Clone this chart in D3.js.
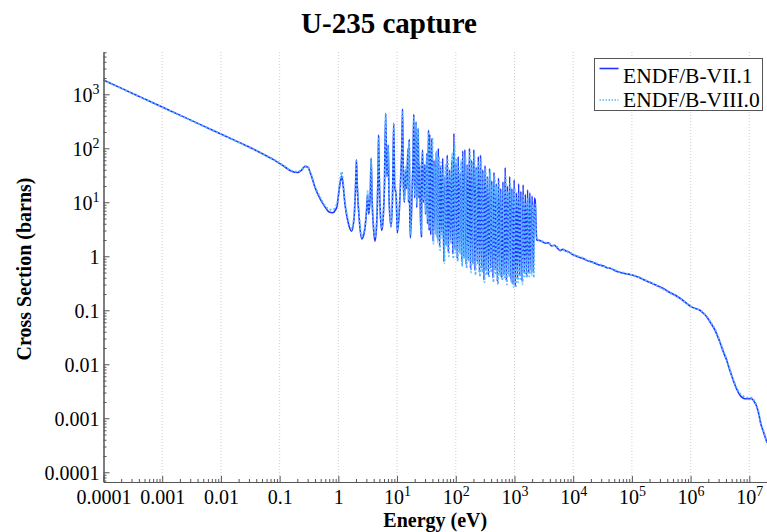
<!DOCTYPE html>
<html>
<head>
<meta charset="utf-8">
<script src="https://cdn.jsdelivr.net/npm/d3@7"></script>
<style>
  body { margin: 0; background: #fff; }
  svg { display: block; }
  text { font-family: "Liberation Serif", "Times New Roman", serif; fill: #000; }
</style>
</head>
<body>
<svg id="chart" width="767" height="532"></svg>
<script>
// ---- U-235 capture cross section, ENDF/B-VII.1 vs ENDF/B-VIII.0 ----

const seriesNames = ["ENDF/B-VII.1", "ENDF/B-VIII.0"];

// Thermal / 1/v region (eV, barns)
const lowEnergy = [1e-4, 2e-4, 5e-4, 1e-3, 2e-3, 5e-3, 0.01, 0.02, 0.035, 0.05, 0.08, 0.12, 0.16, 0.2, 0.24, 0.27, 0.3, 0.34, 0.4, 0.48, 0.58, 0.7, 0.8, 0.9, 0.96];
const lowXsVII  = [1840, 1300, 823, 582, 411, 260, 184, 130, 98, 80, 61, 46, 37.5, 35.5, 40, 46, 45, 33, 19, 12, 8.5, 6.6, 6.4, 7.3, 9];
const lowXsVIII = [1820, 1290, 815, 578, 408, 258, 183, 129, 97, 80, 62, 47, 38.5, 37, 41, 47, 46, 34, 20, 13, 9, 7.4, 7.3, 8.3, 10];

// Low-lying resolved resonances, 1 - 35 eV
const resEnergy = [1.0, 1.08, 1.14, 1.2, 1.3, 1.45, 1.68, 1.85, 1.98, 2.03, 2.1, 2.3, 2.5, 2.8, 3.05, 3.15, 3.3, 3.5, 3.62, 3.75,
  4.0, 4.2, 4.5, 4.75, 4.85, 4.95, 5.2, 5.5, 5.8, 6.1, 6.4, 6.7, 7.0, 7.08, 7.3, 7.9, 8.4, 8.77, 9.1, 9.6,
  9.8, 10.1, 11, 11.7, 12.0, 12.4, 12.8, 13.3, 13.9, 14.5, 15.4, 15.7, 16.1, 16.5, 16.9, 18.0, 18.7, 19.3, 19.9, 21.1,
  21.6, 22.9, 23.6, 24.3, 25.0, 26.0, 26.5, 27.2, 28, 29.7, 30.6, 32.1, 33, 34.4, 35.2];
const resXsVII = [13, 24, 30.7, 22, 9, 4.5, 2.9, 5, 25, 61, 20, 4, 2.1, 3, 8, 14, 6, 15, 65, 12,
  3, 1.9, 4, 40, 176, 40, 6, 3, 5, 20, 445, 30, 60, 115, 12, 3.5, 15, 290, 20, 14,
  8, 2.7, 8, 40, 80, 535, 25, 10, 40, 18, 100, 10, 143, 5, 2.2, 15, 60, 426, 12, 310,
  8, 234, 12, 50, 6, 2.3, 40, 93, 10, 50, 6, 80, 4, 218, 3];
const resXsVIII = [14, 27, 37, 25, 10, 5, 3.3, 5.5, 27, 58, 22, 4.5, 2.4, 3.2, 9, 16, 7, 17, 62, 13,
  3.4, 2.2, 4.5, 45, 160, 42, 6.5, 3.3, 5.5, 22, 420, 32, 55, 110, 13, 3.8, 17, 270, 22, 15,
  9, 3, 9, 45, 75, 500, 28, 11, 45, 20, 95, 11, 135, 5.5, 2.5, 16, 55, 400, 13, 290,
  9, 220, 13, 55, 6.5, 2.6, 45, 88, 11, 45, 6.5, 75, 4.5, 200, 3.3];

// Dense resolved resonances, 36 eV - 2.25 keV
const denseEnergyVII = [36, 37.5, 39, 41, 42.5, 44.5, 46.5, 48.5, 50.5, 53,
  55, 57.5, 60, 62.5, 65.5, 68.5, 71.5, 74.5, 78, 81.5,
  85, 89, 93, 97, 101, 106, 110, 115, 120, 126,
  131, 137, 143, 150, 156, 163, 171, 178, 186, 195,
  203, 212, 222, 232, 242, 253, 264, 276, 289, 302,
  315, 329, 344, 360, 376, 393, 410, 429, 448, 468,
  489, 511, 534, 558, 583, 609, 636, 665, 695, 726,
  758, 792, 828, 865, 904, 945, 987, 1031, 1078, 1126,
  1177, 1230, 1285, 1343, 1403, 1466, 1532, 1601, 1673, 1748,
  1827, 1909, 1995, 2085, 2178, 2250];
const denseXsVII = [180, 2.5, 150, 1.9, 60, 3, 85, 2.2, 100, 1.5,
  45, 2.8, 65, 0.8, 30, 1.6, 75, 1.2, 40, 2,
  60, 1.1, 190, 1.4, 55, 0.9, 70, 1.3, 35, 0.8,
  90, 1.0, 95, 0.7, 50, 0.9, 100, 0.6, 60, 0.75,
  95, 0.55, 45, 0.8, 70, 0.5, 75, 0.6, 40, 0.36,
  48, 0.55, 30, 0.45, 42, 0.6, 25, 0.4, 36, 0.55,
  22, 0.34, 28, 0.5, 18, 0.4, 24, 0.45, 44, 0.35,
  20, 0.5, 30, 0.38, 18, 0.3, 26, 0.28, 15, 0.4,
  22, 0.45, 16, 0.35, 21, 0.5, 14, 0.45, 17, 0.5,
  15, 0.55, 13, 0.5, 12, 11];
const denseEnergyVIII = [36.7, 38.2, 40, 41.7, 43.5, 45.5, 47.5, 49.5, 51.7, 54,
  56.2, 58.7, 61.2, 64, 67, 70, 73, 76.2, 79.7, 83.2,
  87, 91, 95, 99, 103.5, 108, 112.5, 117.5, 123, 128.5,
  134, 140, 146.5, 153, 159.5, 167, 174.5, 182, 190.5, 199,
  207.5, 217, 227, 237, 247.5, 258.5, 270, 282.5, 295.5, 308.5,
  322, 336.5, 352, 368, 384.5, 401.5, 419.5, 438.5, 458, 478.5,
  500, 522.5, 546, 570.5, 596, 622.5, 650.5, 680, 710.5, 742,
  775, 810, 846.5, 884.5, 924.5, 966, 1009, 1054.5, 1102, 1151.5,
  1203.5, 1257.5, 1314, 1373, 1434.5, 1499, 1566.5, 1637, 1710.5, 1787.5,
  1868, 1952, 2040, 2131.5, 2214, 2250];
const denseXsVIII = [120, 3, 160, 1.7, 45, 2.5, 90, 1.8, 70, 1.3,
  55, 2.2, 40, 0.75, 50, 1.5, 60, 1.0, 35, 1.7,
  80, 0.9, 120, 1.2, 65, 0.8, 45, 1.1, 60, 0.65,
  80, 0.9, 70, 0.6, 45, 0.8, 85, 0.5, 55, 0.7,
  80, 0.45, 40, 0.7, 55, 0.42, 65, 0.5, 35, 0.33,
  40, 0.45, 28, 0.4, 38, 0.5, 22, 0.33, 30, 0.45,
  20, 0.3, 24, 0.42, 16, 0.35, 20, 0.38, 30, 0.3,
  16, 0.42, 22, 0.32, 14, 0.27, 18, 0.26, 12, 0.33,
  15, 0.38, 11, 0.3, 14, 0.42, 10, 0.4, 12, 0.42,
  10, 0.45, 9, 0.4, 8, 9];

// Unresolved and fast region, 2.4 keV - 20 MeV
const highEnergy = [2390, 2700, 3000, 3400, 3800, 4300, 4800, 5300, 6000, 6700,
  7500, 8300, 9200, 10000, 11500, 13000, 15000, 17000, 19500, 22000,
  25000, 29000, 33000, 38000, 43000, 50000, 60000, 75000, 93000, 120000,
  150000, 200000, 260000, 330000, 420000, 550000, 700000, 850000, 1e6, 1.2e6,
  1.44e6, 1.65e6, 1.88e6, 2.2e6, 2.6e6, 3.1e6, 3.6e6, 4.1e6, 4.7e6, 5.3e6,
  6e6, 6.9e6, 7.7e6, 8.4e6, 9.5e6, 1.1e7, 1.22e7, 1.34e7, 1.45e7, 1.56e7, 1.75e7, 2e7];
const highXsVII = [2.0, 1.95, 1.85, 1.75, 1.78, 1.55, 1.6, 1.45, 1.27, 1.35,
  1.25, 1.22, 1.12, 1.06, 1.0, 0.95, 0.9, 0.84, 0.8, 0.77,
  0.72, 0.68, 0.66, 0.61, 0.6, 0.55, 0.51, 0.48, 0.46, 0.42,
  0.38, 0.33, 0.29, 0.26, 0.22, 0.19, 0.16, 0.135, 0.118, 0.108,
  0.1, 0.088, 0.076, 0.058, 0.043, 0.027, 0.017, 0.012, 0.0075, 0.0051,
  0.0036, 0.0027, 0.0024, 0.0023, 0.0023, 0.0023, 0.002, 0.00164, 0.0012, 0.00081, 0.00055, 0.00035];
const highXsVIII = [2.05, 2.0, 1.9, 1.8, 1.72, 1.62, 1.55, 1.5, 1.32, 1.3,
  1.28, 1.18, 1.15, 1.08, 1.02, 0.97, 0.92, 0.85, 0.82, 0.76,
  0.74, 0.7, 0.65, 0.62, 0.59, 0.56, 0.52, 0.49, 0.46, 0.43,
  0.385, 0.335, 0.29, 0.25, 0.215, 0.185, 0.158, 0.134, 0.118, 0.108,
  0.1, 0.09, 0.078, 0.06, 0.045, 0.028, 0.018, 0.0125, 0.0078, 0.0053,
  0.0038, 0.0029, 0.0026, 0.0025, 0.0024, 0.0024, 0.0021, 0.0017, 0.00125, 0.00085, 0.00057, 0.00036];

// Axis ticks
const xTickValues = [1e-4, 1e-3, 1e-2, 1e-1, 1, 1e1, 1e2, 1e3, 1e4, 1e5, 1e6, 1e7];
const xTickLabels = ["0.0001", "0.001", "0.01", "0.1", "1", "10^1", "10^2", "10^3", "10^4", "10^5", "10^6", "10^7"];
const yTickValues = [1e-4, 1e-3, 1e-2, 1e-1, 1, 1e1, 1e2, 1e3];
const yTickLabels = ["0.0001", "0.001", "0.01", "0.1", "1", "10^1", "10^2", "10^3"];

// ---- layout ----
const plot = { left: 103.5, right: 767, top: 52, bottom: 482 };
const colorVII = "#2233ff";
const colorVIII = "#5ab6ff";

const svg = d3.select("#chart");

const x = d3.scaleLog().domain([1e-4, 2e7]).range([plot.left, plot.right]);
const y = d3.scaleLog().domain([6.6e-5, 6070]).range([plot.bottom, plot.top]);

function zipPoints(es, vs) { return es.map((e, i) => [e, vs[i]]); }

const dataVII = [].concat(
  zipPoints(lowEnergy, lowXsVII),
  zipPoints(resEnergy, resXsVII),
  zipPoints(denseEnergyVII, denseXsVII),
  zipPoints(highEnergy, highXsVII));
const dataVIII = [].concat(
  zipPoints(lowEnergy, lowXsVIII),
  zipPoints(resEnergy, resXsVIII),
  zipPoints(denseEnergyVIII, denseXsVIII),
  zipPoints(highEnergy, highXsVIII));

// minor tick positions (2..9 in every decade)
function minorTicks(lo, hi) {
  const out = [];
  for (let p = Math.floor(Math.log10(lo)); p <= Math.ceil(Math.log10(hi)); p++) {
    for (let m = 2; m <= 9; m++) {
      const v = m * Math.pow(10, p);
      if (v > lo && v < hi) out.push(v);
    }
  }
  return out;
}

// vertical dotted grid at major energies
svg.append("g").selectAll("line")
  .data(xTickValues.slice(1))
  .join("line")
  .attr("x1", d => x(d)).attr("x2", d => x(d))
  .attr("y1", plot.top).attr("y2", plot.bottom)
  .attr("stroke", "#cfcfcf").attr("stroke-width", 1)
  .attr("stroke-dasharray", "1,2");

// clip region for curves
svg.append("clipPath").attr("id", "plotClip")
  .append("rect")
  .attr("x", plot.left).attr("y", plot.top)
  .attr("width", plot.right - plot.left).attr("height", plot.bottom - plot.top);

const line = d3.line()
  .x(d => x(d[0]))
  .y(d => y(d[1]))
  .curve(d3.curveMonotoneX);

const curves = svg.append("g").attr("clip-path", "url(#plotClip)");
curves.append("path")
  .datum(dataVII)
  .attr("d", line)
  .attr("fill", "none")
  .attr("stroke", colorVII)
  .attr("stroke-width", 1.6)
  .attr("stroke-linejoin", "round");
curves.append("path")
  .datum(dataVIII)
  .attr("d", line)
  .attr("fill", "none")
  .attr("stroke", colorVIII)
  .attr("stroke-width", 1.8)
  .attr("stroke-dasharray", "2,2");

// label writer: "10^3" -> 10 with superscript 3
function writeLabel(sel, str) {
  sel.text(null);
  const parts = String(str).split("^");
  sel.append("tspan").text(parts[0]);
  if (parts.length > 1) {
    sel.append("tspan").attr("font-size", 14).attr("dy", -8).text(parts[1]);
  }
}

function styleAxis(g) {
  g.selectAll("path.domain").attr("stroke", "#555");
  g.selectAll(".tick line").attr("stroke", "#555");
}

// x axis: minor and major ticks pointing into the plot
const xAxisG = svg.append("g").attr("transform", `translate(0,${plot.bottom})`);
const xMinorG = xAxisG.append("g")
  .call(d3.axisBottom(x).tickValues(minorTicks(1e-4, 2e7)).tickSizeInner(-3).tickSizeOuter(0).tickFormat(""));
const xMajorG = xAxisG.append("g")
  .call(d3.axisBottom(x).tickValues(xTickValues).tickSizeInner(-6).tickSizeOuter(0)
    .tickFormat((d, i) => xTickLabels[i]));
styleAxis(xMinorG); styleAxis(xMajorG);
xMinorG.selectAll(".tick text").remove();
xMajorG.selectAll(".tick text")
  .attr("y", 22).attr("dy", 0)
  .attr("font-size", 20)
  .attr("font-family", "Liberation Serif, Times New Roman, serif")
  .attr("fill", "#000")
  .each(function(d, i) { writeLabel(d3.select(this), xTickLabels[i]); });

// y axis: minor and major ticks pointing into the plot
const yAxisG = svg.append("g").attr("transform", `translate(${plot.left},0)`);
const yMinorG = yAxisG.append("g")
  .call(d3.axisLeft(y).tickValues(minorTicks(6.6e-5, 6070)).tickSizeInner(-3).tickSizeOuter(0).tickFormat(""));
const yMajorG = yAxisG.append("g")
  .call(d3.axisLeft(y).tickValues(yTickValues).tickSizeInner(-6).tickSizeOuter(0)
    .tickFormat((d, i) => yTickLabels[i]));
styleAxis(yMinorG); styleAxis(yMajorG);
yMinorG.selectAll(".tick text").remove();
yMajorG.selectAll(".tick text")
  .attr("x", -4).attr("dy", "0.36em")
  .attr("font-size", 20)
  .attr("font-family", "Liberation Serif, Times New Roman, serif")
  .attr("fill", "#000")
  .attr("text-anchor", "end")
  .each(function(d, i) { writeLabel(d3.select(this), yTickLabels[i]); });

// titles
svg.append("text")
  .attr("x", 389).attr("y", 33)
  .attr("text-anchor", "middle")
  .attr("font-size", 29).attr("font-weight", "bold")
  .text("U-235 capture");

svg.append("text")
  .attr("x", (plot.left + plot.right) / 2).attr("y", 527)
  .attr("text-anchor", "middle")
  .attr("font-size", 20).attr("font-weight", "bold")
  .text("Energy (eV)");

svg.append("text")
  .attr("transform", `translate(31,${(plot.top + plot.bottom) / 2 + 2}) rotate(-90)`)
  .attr("text-anchor", "middle")
  .attr("font-size", 20).attr("font-weight", "bold")
  .text("Cross Section (barns)");

// legend
const legend = svg.append("g");
legend.append("rect")
  .attr("x", 594.5).attr("y", 58.5).attr("width", 168).attr("height", 52)
  .attr("fill", "#fff").attr("stroke", "#555").attr("stroke-width", 1);
const legendRows = [
  { name: seriesNames[0], color: colorVII, dash: null, width: 1.6, ly: 68.5, ty: 83 },
  { name: seriesNames[1], color: colorVIII, dash: "1.5,1.5", width: 1.5, ly: 100, ty: 106.5 }
];
legendRows.forEach(r => {
  legend.append("line")
    .attr("x1", 599.5).attr("x2", 618.5).attr("y1", r.ly).attr("y2", r.ly)
    .attr("stroke", r.color).attr("stroke-width", r.width)
    .attr("stroke-dasharray", r.dash);
  legend.append("text")
    .attr("x", 623).attr("y", r.ty)
    .attr("font-size", 21.5)
    .text(r.name);
});
</script>
</body>
</html>
